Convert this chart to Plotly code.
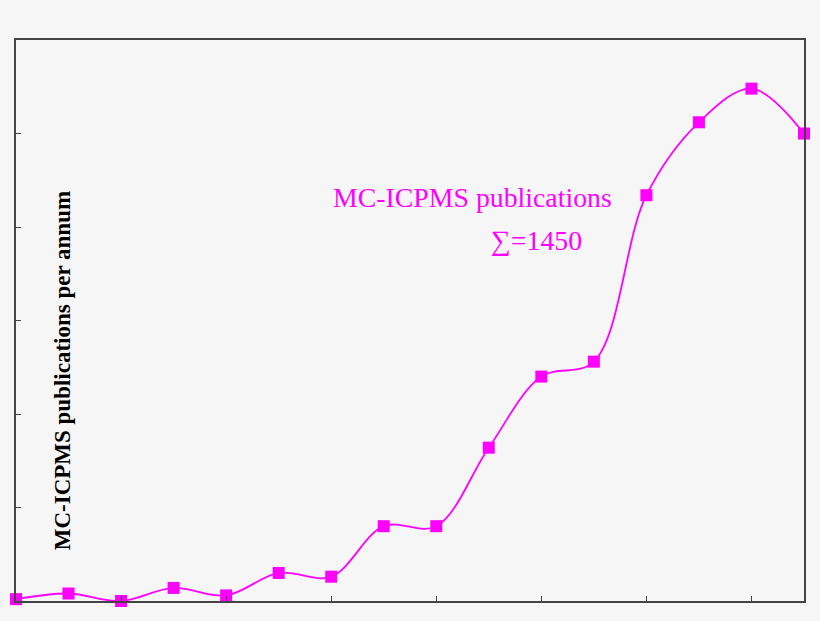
import plotly.graph_objects as go

years = list(range(1992, 2008))
pubs = [1, 4, 0, 7, 3, 15, 13, 40, 40, 82, 120, 128, 217, 256, 274, 250]

series_label = 'MC-ICPMS publications'
total_label = '\u2211=1450'
y_title = 'MC-ICPMS publications per annum'

magenta = '#ff00ff'
bg = '#f6f6f6'
axis_col = '#444444'

fig = go.Figure()
fig.add_trace(go.Scatter(
    x=years, y=pubs, mode='lines+markers',
    line=dict(color=magenta, width=1.8, shape='spline', smoothing=1),
    marker=dict(symbol='square', size=12, color=magenta),
    cliponaxis=False, showlegend=False,
))

fig.add_annotation(x=1998.0, y=216, xref='x', yref='y', text=series_label,
                   showarrow=False, xanchor='left', yanchor='middle',
                   font=dict(family='Liberation Serif', size=27.8, color=magenta))
fig.add_annotation(x=2001.0, y=193, xref='x', yref='y', text=total_label,
                   showarrow=False, xanchor='left', yanchor='middle',
                   font=dict(family='Liberation Serif', size=27.8, color=magenta))
fig.add_annotation(x=0.06, y=0.41, xref='paper', yref='paper', text='<b>' + y_title + '</b>',
                   showarrow=False, textangle=-90, xanchor='center', yanchor='middle',
                   font=dict(family='Liberation Serif', size=23, color='black'))

axis_style = dict(showline=True, linecolor=axis_col, linewidth=1.5, mirror=True,
                  ticks='inside', ticklen=5, tickcolor=axis_col, tickwidth=1.2,
                  showgrid=False, zeroline=False, showticklabels=False)

fig.update_xaxes(range=[1992, 2007], tick0=1992, dtick=2, **axis_style)
fig.update_yaxes(range=[0, 300], tick0=0, dtick=50, **axis_style)

fig.update_layout(
    width=820, height=621,
    margin=dict(l=16, r=16, t=40, b=20),
    paper_bgcolor=bg, plot_bgcolor=bg,
)

# drop the default page margin so the figure sits at the window's corner
fig.write_html('out.html', config={'displayModeBar': False},
               post_script="document.body.style.margin='0';")
